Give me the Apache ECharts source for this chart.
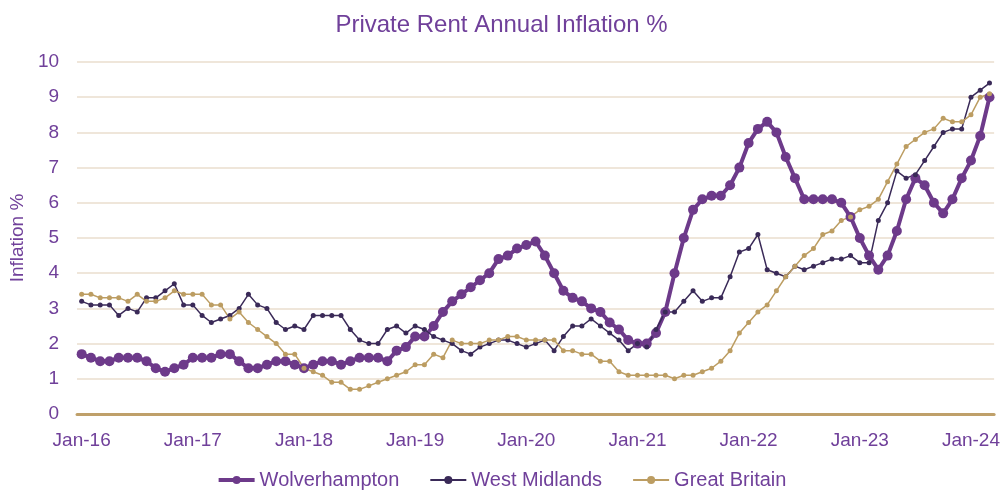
<!DOCTYPE html>
<html>
<head>
<meta charset="utf-8">
<script src="https://cdn.jsdelivr.net/npm/echarts@6/dist/echarts.min.js"></script>
<style>
  html, body { margin: 0; padding: 0; background: #fff; }
  #chart { width: 1003px; height: 490px; }
</style>
</head>
<body>
<div id="chart"></div>
<script>
// monthly, Jan-16 .. Mar-24
const monthNames = ['Jan', 'Feb', 'Mar', 'Apr', 'May', 'Jun', 'Jul', 'Aug', 'Sep', 'Oct', 'Nov', 'Dec']
const months = []
for (let i = 0; i < 99; i++) {
  months.push(monthNames[i % 12] + '-' + (16 + Math.floor(i / 12)))
}

const wolverhampton = [
  1.7, 1.6, 1.5, 1.5, 1.6, 1.6, 1.6, 1.5, 1.3, 1.2, 1.3, 1.4,
  1.6, 1.6, 1.6, 1.7, 1.7, 1.5, 1.3, 1.3, 1.4, 1.5, 1.5, 1.4,
  1.3, 1.4, 1.5, 1.5, 1.4, 1.5, 1.6, 1.6, 1.6, 1.5, 1.8, 1.9,
  2.2, 2.2, 2.5, 2.9, 3.2, 3.4, 3.6, 3.8, 4.0, 4.4, 4.5, 4.7,
  4.8, 4.9, 4.5, 4.0, 3.5, 3.3, 3.2, 3.0, 2.9, 2.6, 2.4, 2.1,
  2.0, 2.0, 2.3, 2.9, 4.0, 5.0, 5.8, 6.1, 6.2, 6.2, 6.5, 7.0,
  7.7, 8.1, 8.3, 8.0, 7.3, 6.7, 6.1, 6.1, 6.1, 6.1, 6.0, 5.6,
  5.0, 4.5, 4.1, 4.5, 5.2, 6.1, 6.7, 6.5, 6.0, 5.7, 6.1, 6.7,
  7.2, 7.9, 9.0
]

const westMidlands = [
  3.2, 3.1, 3.1, 3.1, 2.8, 3.0, 2.9, 3.3, 3.3, 3.5, 3.7, 3.1,
  3.1, 2.8, 2.6, 2.7, 2.8, 3.0, 3.4, 3.1, 3.0, 2.6, 2.4, 2.5,
  2.4, 2.8, 2.8, 2.8, 2.8, 2.4, 2.1, 2.0, 2.0, 2.4, 2.5, 2.3,
  2.5, 2.4, 2.2, 2.1, 2.0, 1.8, 1.7, 1.9, 2.0, 2.1, 2.1, 2.0,
  1.9, 2.0, 2.1, 1.8, 2.2, 2.5, 2.5, 2.7, 2.5, 2.3, 2.1, 1.8,
  2.0, 1.9, 2.4, 2.9, 2.9, 3.2, 3.5, 3.2, 3.3, 3.3, 3.9, 4.6,
  4.7, 5.1, 4.1, 4.0, 3.9, 4.2, 4.1, 4.2, 4.3, 4.4, 4.4, 4.5,
  4.3, 4.3, 5.5, 6.0, 6.9, 6.7, 6.8, 7.2, 7.6, 8.0, 8.1, 8.1,
  9.0, 9.2, 9.4
]

const greatBritain = [
  3.4, 3.4, 3.3, 3.3, 3.3, 3.2, 3.4, 3.2, 3.2, 3.3, 3.5, 3.4,
  3.4, 3.4, 3.1, 3.1, 2.7, 2.9, 2.6, 2.4, 2.2, 2.0, 1.7, 1.7,
  1.3, 1.2, 1.1, 0.9, 0.9, 0.7, 0.7, 0.8, 0.9, 1.0, 1.1, 1.2,
  1.4, 1.4, 1.7, 1.6, 2.1, 2.0, 2.0, 2.0, 2.1, 2.1, 2.2, 2.2,
  2.1, 2.1, 2.1, 2.1, 1.8, 1.8, 1.7, 1.7, 1.5, 1.5, 1.2, 1.1,
  1.1, 1.1, 1.1, 1.1, 1.0, 1.1, 1.1, 1.2, 1.3, 1.5, 1.8, 2.3,
  2.6, 2.9, 3.1, 3.5, 3.9, 4.2, 4.5, 4.7, 5.1, 5.2, 5.5, 5.6,
  5.8, 5.9, 6.1, 6.6, 7.1, 7.6, 7.8, 8.0, 8.1, 8.4, 8.3, 8.3,
  8.5, 9.0, 9.1
]

const textColor = '#70409a'
const fontFamily = '"Liberation Sans", Arial, sans-serif'

const chart = echarts.init(document.getElementById('chart'))

chart.setOption({
  animation: false,
  textStyle: { fontFamily: fontFamily },
  title: {
    text: 'Private Rent Annual Inflation %',
    left: 'center',
    top: 8,
    textStyle: { color: textColor, fontSize: 24, fontWeight: 'normal', fontFamily: fontFamily }
  },
  legend: {
    top: 465,
    left: 'center',
    itemWidth: 36,
    itemHeight: 10,
    itemGap: 30,
    textStyle: { color: textColor, fontSize: 20, fontFamily: fontFamily },
    data: [
      { name: 'Wolverhampton', lineStyle: { width: 4 } },
      { name: 'West Midlands', lineStyle: { width: 2 } },
      { name: 'Great Britain', lineStyle: { width: 2 } }
    ]
  },
  grid: {
    left: 77,
    right: 8,
    top: 62,
    bottom: 76
  },
  xAxis: {
    type: 'category',
    data: months,
    boundaryGap: true,
    axisLine: { lineStyle: { color: '#bfa06a', width: 3 } },
    axisTick: { show: false },
    axisLabel: {
      color: textColor,
      fontSize: 19,
      margin: 17,
      interval: function(index) {
        return index % 12 === 0
      }
    },
    splitLine: { show: false }
  },
  yAxis: {
    type: 'value',
    min: 0,
    max: 10,
    interval: 1,
    name: 'Inflation %',
    nameLocation: 'middle',
    nameGap: 48,
    nameTextStyle: { color: textColor, fontSize: 19, fontFamily: fontFamily },
    axisLine: { show: false },
    axisTick: { show: false },
    axisLabel: { color: textColor, fontSize: 19, margin: 18 },
    splitLine: { lineStyle: { color: '#efe6da', width: 2 } }
  },
  series: [{
    name: 'Wolverhampton',
    type: 'line',
    data: wolverhampton,
    color: '#6d3a8a',
    lineStyle: { width: 4 },
    symbol: 'circle',
    symbolSize: 10,
    showAllSymbol: true
  }, {
    name: 'West Midlands',
    type: 'line',
    data: westMidlands,
    color: '#3a2a58',
    lineStyle: { width: 1.5 },
    symbol: 'circle',
    symbolSize: 5,
    showAllSymbol: true
  }, {
    name: 'Great Britain',
    type: 'line',
    data: greatBritain,
    color: '#bc9d62',
    lineStyle: { width: 1.5 },
    symbol: 'circle',
    symbolSize: 5,
    showAllSymbol: true
  }]
})
</script>
</body>
</html>
